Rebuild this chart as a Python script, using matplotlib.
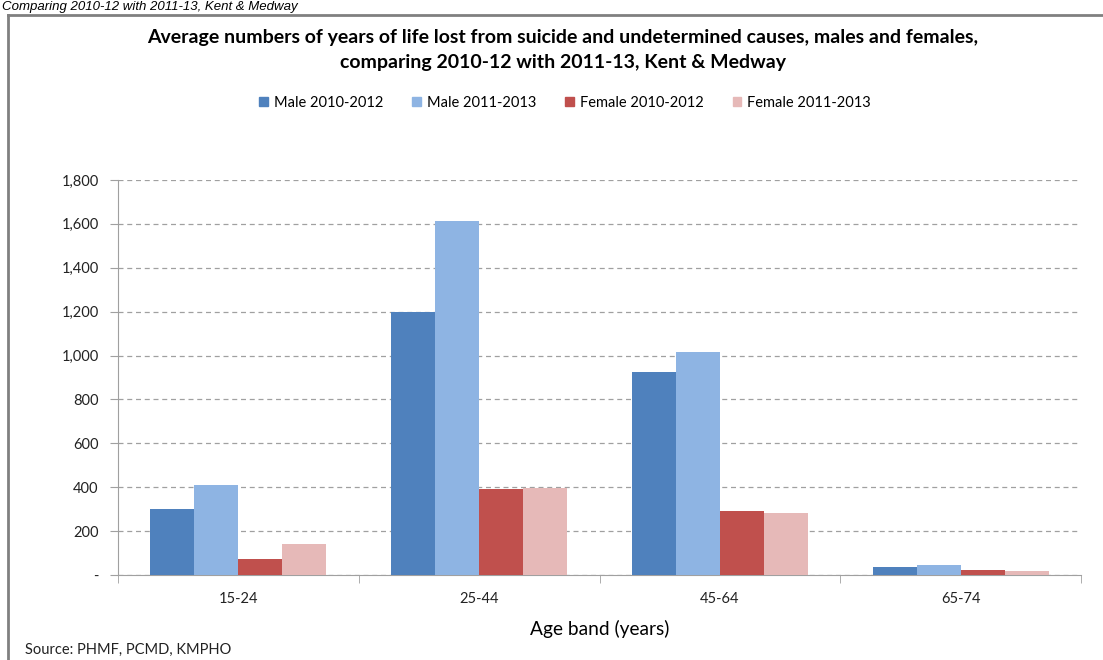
import matplotlib.pyplot as plt
import numpy as np
from matplotlib.patches import Rectangle
from matplotlib.lines import Line2D

plt.rcParams['font.family'] = ['Lato', 'DejaVu Sans']

age_bands = ['15-24', '25-44', '45-64', '65-74']
series_names = ['Male 2010-2012', 'Male 2011-2013', 'Female 2010-2012', 'Female 2011-2013']
male_2010_12 = [300, 1200, 927, 35]
male_2011_13 = [410, 1612, 1015, 44]
female_2010_12 = [73, 392, 292, 21]
female_2011_13 = [141, 398, 283, 17]
colors = ['#4F81BD', '#8EB4E3', '#C0504D', '#E6B9B8']
y_ticks = [0, 200, 400, 600, 800, 1000, 1200, 1400, 1600, 1800]

W, H = 1103, 660
fig = plt.figure(figsize=(W / 100, H / 100), dpi=100)

# outer frame (top and left edges visible)
fig.add_artist(Line2D([8 / W, 8 / W], [0, 1 - 15 / H], color='#808080', lw=2))
fig.add_artist(Line2D([8 / W, 1], [1 - 15 / H, 1 - 15 / H], color='#808080', lw=2))

# caption above the chart frame
fig.text(2 / W, 1 - 7 / H, 'Comparing 2010-12 with 2011-13, Kent & Medway', fontsize=9.5,
         style='italic', va='center', ha='left', family=['Liberation Sans', 'DejaVu Sans'])

ax = fig.add_axes([118 / W, 1 - 575 / H, (1081 - 118) / W, (575 - 180) / H])

x = np.arange(len(age_bands))
bw = 0.183
values = [male_2010_12, male_2011_13, female_2010_12, female_2011_13]
for i, (vals, c, name) in enumerate(zip(values, colors, series_names)):
    ax.bar(x + (i - 1.5) * bw, vals, bw, color=c, label=name, zorder=3)

ax.set_xlim(-0.5, 3.5)
ax.set_ylim(0, 1800)
ax.set_yticks(y_ticks)
ax.set_yticklabels(['-' if v == 0 else f'{v:,}' for v in y_ticks], fontsize=10.5, color='#222222')
ax.yaxis.grid(True, linestyle=(0, (4, 3)), color='#A0A0A0', lw=0.9, zorder=0)
ax.set_xticks(x)
ax.set_xticklabels(age_bands, fontsize=10.5, color='#222222')
ax.tick_params(axis='x', length=0, pad=12)
ax.set_xticks(np.arange(-0.5, 4, 1), minor=True)
ax.tick_params(axis='x', which='minor', length=6, color='#A0A0A0', direction='out')
ax.tick_params(axis='y', length=6, color='#A0A0A0', pad=8)
for s in ['top', 'right']:
    ax.spines[s].set_visible(False)
for s in ['left', 'bottom']:
    ax.spines[s].set_color('#A0A0A0')

ax.set_xlabel('Age band (years)', fontsize=13.8, labelpad=10)

fig.text(563 / W, 1 - 50 / H,
         'Average numbers of years of life lost from suicide and undetermined causes, males and females,\n'
         'comparing 2010-12 with 2011-13, Kent & Medway',
         ha='center', va='center', fontsize=14, fontweight='bold', linespacing=1.55)

labels = series_names
handles = [Rectangle((0, 0), 1, 1, color=c) for c in colors]
fig.legend(handles, labels, loc='center', bbox_to_anchor=(565 / W, 1 - 103 / H), ncol=4,
           frameon=False, fontsize=10.5, handlelength=0.6, handleheight=0.6,
           handletextpad=0.4, columnspacing=2.0)

fig.text(25 / W, 1 - 650 / H, 'Source: PHMF, PCMD, KMPHO', fontsize=10.5, va='center', color='#222222')

fig.savefig('out.png', dpi=100)
